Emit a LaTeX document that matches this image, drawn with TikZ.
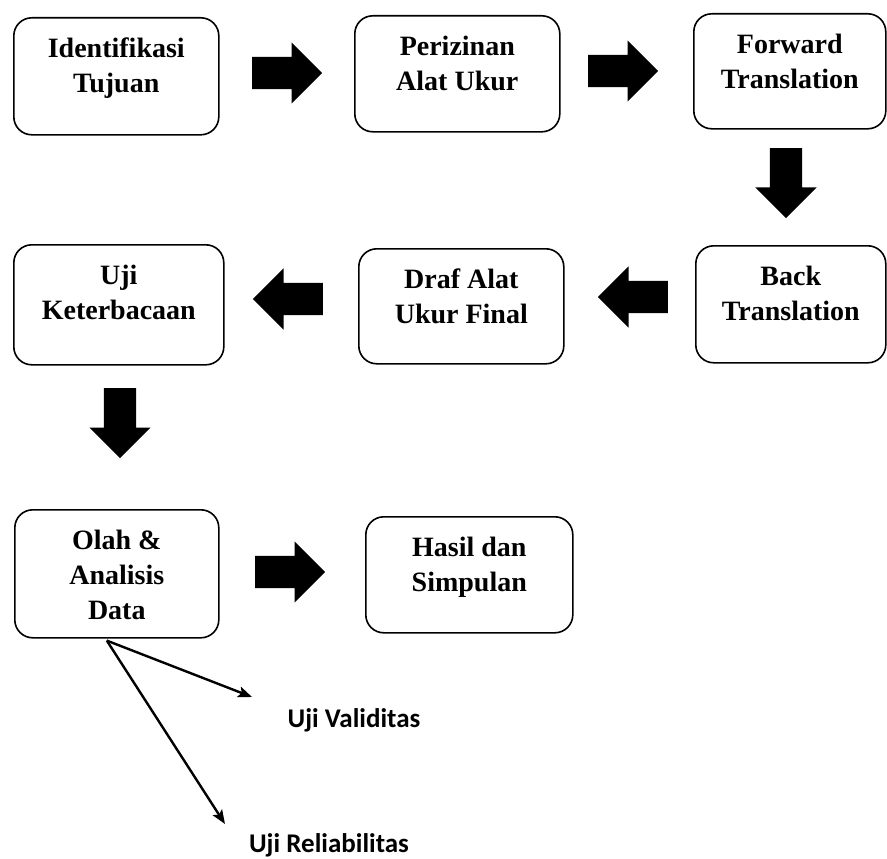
\documentclass[tikz,border=0pt]{standalone}
\usepackage{fontspec}
\setmainfont{Liberation Serif}
\newfontfamily\labelfont{Carlito}
\usepackage{tikz}
\usetikzlibrary{calc,shapes.arrows,arrows.meta}

\begin{document}
\begin{tikzpicture}[x=1pt, y=-1pt,
    box/.style={draw, line width=1.6pt, rounded corners=18pt, anchor=north west, align=center,
      inner sep=0pt, text height=75pt, font=\bfseries\fontsize{28}{35}\selectfont},
    blockarrow/.style={single arrow, fill=black, inner sep=16pt, anchor=tail, minimum height=70pt,
      minimum width=61pt, single arrow head extend=14.5pt},
    thinarrow/.style={line width=2.4pt, -{Stealth[length=14pt, width=11pt, inset=3pt]}},
    testlabel/.style={anchor=base, inner sep=0pt, font=\labelfont\bfseries\fontsize{27}{32}\selectfont}]
    \useasboundingbox (0,0) rectangle (887,859);
    \node[box, minimum width=205pt, text depth=42pt] (ident) at (13,17) {Identifikasi\\Tujuan};
    \node[box, minimum width=205pt, text depth=41pt] (izin) at (354,15) {Perizinan\\Alat Ukur};
    \node[box, minimum width=192pt, text depth=40pt] (fwd) at (693,13) {Forward\\Translation};
    \node[box, minimum width=190pt, text depth=42pt] (back) at (695,245) {Back\\Translation};
    \node[box, minimum width=205pt, text depth=40pt] (draf) at (358,248) {Draf Alat\\Ukur Final};
    \node[box, minimum width=210pt, text depth=45pt] (uji) at (13,244) {Uji\\Keterbacaan};
    \node[box, minimum width=204pt, text height=110pt, text depth=18pt] (olah) at (14,509) {Olah \&\\Analisis\\Data};
    \node[box, minimum width=207pt, text depth=41pt] (hasil) at (365,516) {Hasil dan\\Simpulan};
    \node[blockarrow] (r1) at (252,73) {}; \node[blockarrow] (r2) at (588,71) {};
    \node[blockarrow, shape border rotate=270] (d1) at (786,148) {};
    \node[blockarrow, shape border rotate=180] (l1) at (668,297) {};
    \node[blockarrow, shape border rotate=180] (l2) at (323,299) {};
    \node[blockarrow, shape border rotate=270] (d2) at (120,388) {};
    \node[blockarrow] (r3) at (255,572) {};
    \coordinate (split) at ($(olah.south)+(-10,2)$);
    \coordinate (valend) at (252,697); \coordinate (relend) at (225,824);
    \draw[thinarrow] (split) -- (valend); \draw[thinarrow] (split) -- (relend);
    \node[testlabel] (valid) at (354,727) {Uji Validitas};
    \node[testlabel] (relia) at (329,852) {Uji Reliabilitas};
\end{tikzpicture}
\end{document}
